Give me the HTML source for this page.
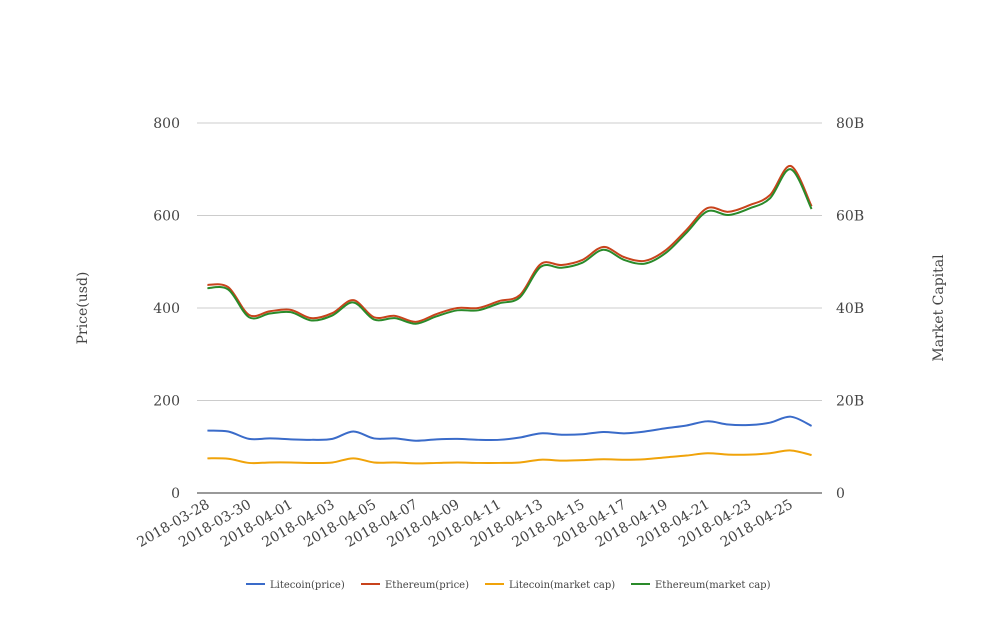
<!DOCTYPE html>
<html><head><meta charset="utf-8"><style>
body{margin:0;background:#fff;}
svg text{font-family:"DejaVu Serif","Liberation Serif",serif;fill:#444;}
</style></head><body>
<svg id="c" width="1008" height="616"></svg>
<script>
const categories=["2018-03-28","2018-03-29","2018-03-30","2018-03-31","2018-04-01","2018-04-02","2018-04-03","2018-04-04","2018-04-05","2018-04-06","2018-04-07","2018-04-08","2018-04-09","2018-04-10","2018-04-11","2018-04-12","2018-04-13","2018-04-14","2018-04-15","2018-04-16","2018-04-17","2018-04-18","2018-04-19","2018-04-20","2018-04-21","2018-04-22","2018-04-23","2018-04-24","2018-04-25","2018-04-26"];
const ltcPrice=[135,133,117,118,116,115,117,133,118,118,113,116,117,115,115,120,129,126,127,132,129,133,140,146,155,148,147,152,165,145];
const ethPrice=[450,445,385,393,396,378,389,417,380,383,370,387,400,400,415,428,495,493,504,532,510,502,525,569,616,608,622,644,707,620];
const ltcCap=[7.5,7.4,6.5,6.6,6.6,6.5,6.6,7.5,6.6,6.6,6.4,6.5,6.6,6.5,6.5,6.6,7.2,7.0,7.1,7.3,7.2,7.3,7.7,8.1,8.6,8.3,8.3,8.6,9.2,8.2];
const ethCap=[44.3,44.0,38.0,38.8,39.1,37.3,38.4,41.2,37.5,37.8,36.6,38.2,39.5,39.5,41.0,42.3,48.9,48.7,49.8,52.6,50.4,49.6,51.9,56.3,60.9,60.1,61.5,63.7,70.0,61.4];
const leftTicks=[0,200,400,600,800];
const rightTicks=["0","20B","40B","60B","80B"];
const S=document.getElementById('c'),NS="http://www.w3.org/2000/svg";
const L=197,R=822,T=123,B=493;
const bw=(R-L)/categories.length;
const x=i=>L+bw*(i+0.5);
const yL=v=>B-(v/800)*(B-T);
const yR=v=>B-(v/80)*(B-T);
function el(t,a,txt){const e=document.createElementNS(NS,t);for(const k in a)e.setAttribute(k,a[k]);if(txt!=null)e.textContent=txt;S.appendChild(e);return e;}
leftTicks.forEach((v,i)=>{
 if(v>0){const g=el('line',{x1:L,x2:R,y1:yL(v),y2:yL(v),stroke:'#ccc'});
 
 }
 const t=el('text',{x:180,y:yL(v)+5,'text-anchor':'end','font-size':14},v);
 
 
 const r=el('text',{x:836,y:yL(v)+5,'font-size':14},rightTicks[i]);
 
 
});
const ax=el('line',{x1:L,x2:R,y1:B,y2:B,stroke:'#333'});


categories.forEach((c,i)=>{if(i%2)return;
 const t=el('text',{'text-anchor':'end','font-size':14,transform:`translate(${x(i)+3},${B+14}) rotate(-30)`},c);
 
 });
const yt=el('text',{'text-anchor':'middle','font-size':14,transform:'translate(87,308) rotate(-90)'},'Price(usd)');


const yt2=el('text',{'text-anchor':'middle','font-size':14,transform:'translate(943,308) rotate(-90)'},'Market Capital');


function path(pts){let d=`M${pts[0][0]},${pts[0][1]}`;
 for(let i=0;i<pts.length-1;i++){const p0=pts[Math.max(0,i-1)],p1=pts[i],p2=pts[i+1],p3=pts[Math.min(pts.length-1,i+2)];
 d+=` C${p1[0]+(p2[0]-p0[0])/6},${p1[1]+(p2[1]-p0[1])/6} ${p2[0]-(p3[0]-p1[0])/6},${p2[1]-(p3[1]-p1[1])/6} ${p2[0]},${p2[1]}`;}return d;}
const series=[[ltcPrice,yL,'#3a6bc9','litecoin-price-line'],[ethPrice,yL,'#c8431c','ethereum-price-line'],[ltcCap,yR,'#f0a30a','litecoin-marketcap-line'],[ethCap,yR,'#2a8a2a','ethereum-marketcap-line']];
series.forEach(s=>{const p=el('path',{d:path(s[0].map((v,i)=>[x(i),s[1](v)])),fill:'none',stroke:s[2],'stroke-width':2});
 
 });
const names=['Litecoin(price)','Ethereum(price)','Litecoin(market cap)','Ethereum(market cap)'];
const lx=[246,361,485,631];
names.forEach((n,i)=>{
 const g=el('line',{x1:lx[i],x2:lx[i]+19,y1:584,y2:584,stroke:series[i][2],'stroke-width':2});
 
 
 const t=el('text',{x:lx[i]+24,y:588,'font-size':10},n);
 
 
});
</script>
</body></html>
